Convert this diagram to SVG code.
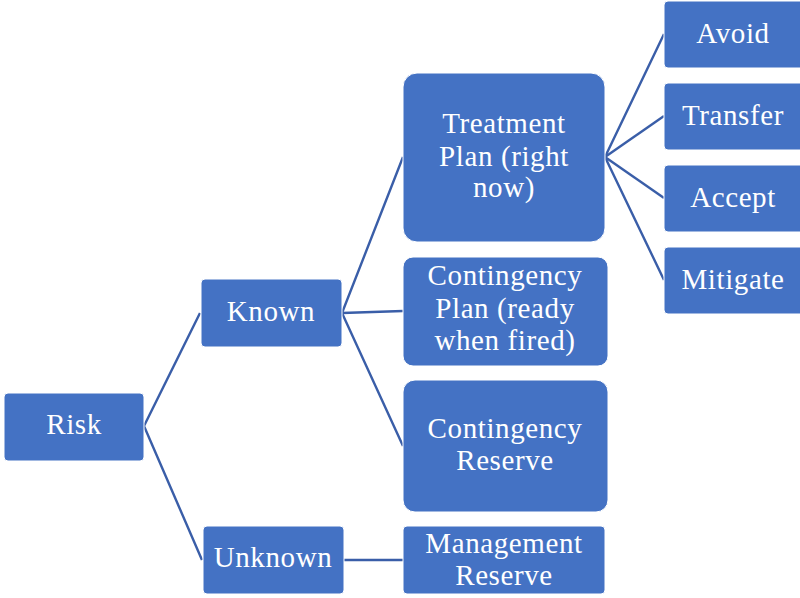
<svg xmlns="http://www.w3.org/2000/svg" width="800" height="598" viewBox="0 0 800 598">
<style>
.box{fill:#4472C4;stroke:#ffffff;stroke-width:1}
.lbl{fill:#ffffff;font-family:"Liberation Serif",serif;font-size:29px;letter-spacing:0.6px;text-anchor:middle}
.con{fill:none;stroke:#3A5EA8;stroke-width:2.4}
</style>
<rect width="800" height="598" fill="#ffffff"/>
<g id="connectors">
<polyline class="con" points="200,313 144,426 202,560"/>
<polyline class="con" points="403,157 342,313 403,446"/>
<line class="con" x1="342" y1="313" x2="403" y2="311"/>
<line class="con" x1="343" y1="560" x2="403" y2="560"/>
<polyline class="con" points="664,34 605,157 664,280"/>
<line class="con" x1="605" y1="157" x2="664" y2="116"/>
<line class="con" x1="605" y1="157" x2="664" y2="198"/>
</g>
<g id="risk"><rect class="box" x="4" y="393" width="140" height="68" rx="4"/><text class="lbl" x="74" y="434">Risk</text></g>
<g id="known"><rect class="box" x="201" y="279" width="141" height="68" rx="4"/><text class="lbl" x="271" y="321">Known</text></g>
<g id="unknown"><rect class="box" x="203" y="526" width="141" height="68" rx="4"/><text class="lbl" x="273" y="567">Unknown</text></g>
<g id="treatment"><rect class="box" x="403" y="73" width="202" height="169" rx="14"/><text class="lbl" x="504" y="133">Treatment</text><text class="lbl" x="504" y="166">Plan (right</text><text class="lbl" x="504" y="197">now)</text></g>
<g id="contingency-plan"><rect class="box" x="403" y="257" width="205" height="109" rx="10"/><text class="lbl" x="505" y="285">Contingency</text><text class="lbl" x="505" y="318">Plan (ready</text><text class="lbl" x="505" y="350">when fired)</text></g>
<g id="contingency-reserve"><rect class="box" x="403" y="380" width="205" height="132" rx="12"/><text class="lbl" x="505" y="438">Contingency</text><text class="lbl" x="505" y="470">Reserve</text></g>
<g id="management-reserve"><rect class="box" x="403" y="526" width="202" height="68" rx="4"/><text class="lbl" x="504" y="553">Management</text><text class="lbl" x="504" y="585">Reserve</text></g>
<g id="avoid"><rect class="box" x="664" y="1" width="140" height="67" rx="4"/><text class="lbl" x="733" y="43">Avoid</text></g>
<g id="transfer"><rect class="box" x="664" y="83" width="140" height="67" rx="4"/><text class="lbl" x="733" y="125">Transfer</text></g>
<g id="accept"><rect class="box" x="664" y="165" width="140" height="67" rx="4"/><text class="lbl" x="733" y="207">Accept</text></g>
<g id="mitigate"><rect class="box" x="664" y="247" width="140" height="67" rx="4"/><text class="lbl" x="733" y="289">Mitigate</text></g>
</svg>
